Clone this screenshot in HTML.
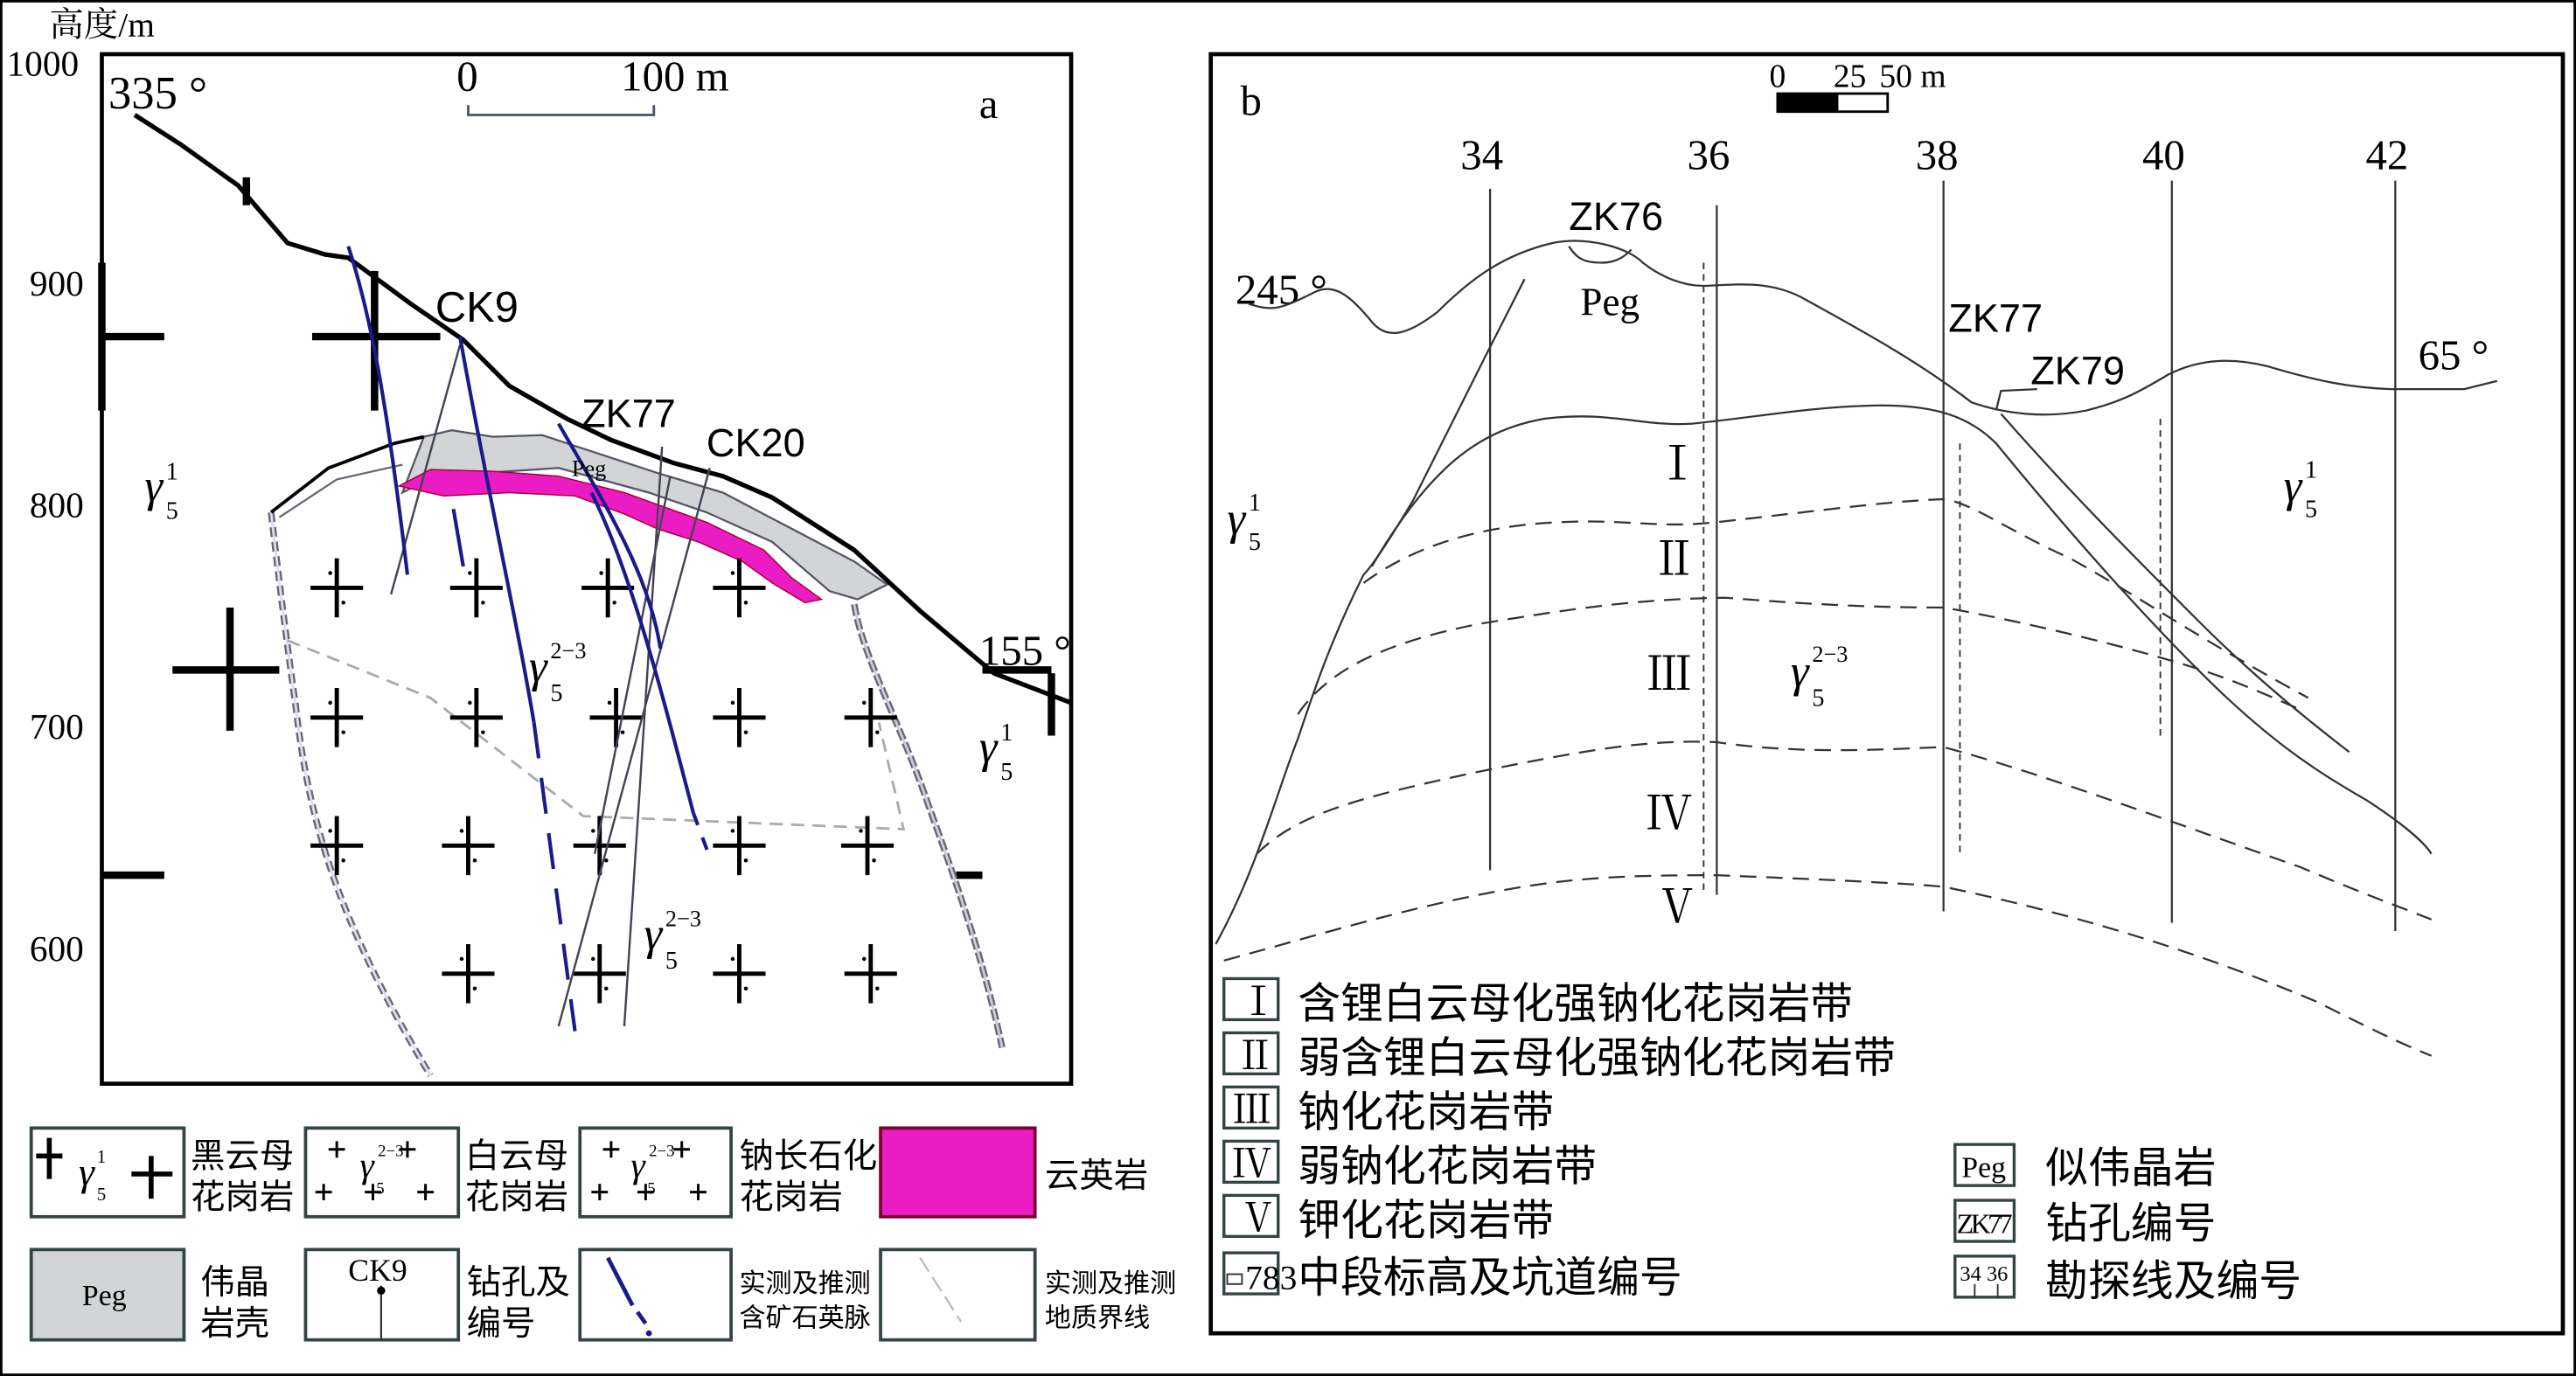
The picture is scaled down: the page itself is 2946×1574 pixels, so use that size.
<!DOCTYPE html>
<html><head><meta charset="utf-8"><style>
html,body{margin:0;padding:0;background:#fff}
svg{display:block}
.s{font-family:"Liberation Serif","Noto Serif CJK SC",serif;fill:#000}
.c{font-family:"Liberation Sans","Noto Sans CJK SC",sans-serif;fill:#000}
</style></head><body>
<svg width="2946" height="1574" viewBox="0 0 1568 838" preserveAspectRatio="none" xmlns="http://www.w3.org/2000/svg">
<defs>
<g id="sc"><path d="M-16 0H16M0 -18V18" stroke="#000" stroke-width="2.6"/><circle cx="-4" cy="-9" r="1.2"/><circle cx="4" cy="9" r="1.2"/></g>
</defs>
<rect x="0.5" y="0.5" width="1567" height="837" fill="#fff" stroke="#000" stroke-width="2"/>
<!-- Panel a -->
<rect x="62" y="33" width="590" height="627" fill="#fff" stroke="#000" stroke-width="2.5"/>
<text class="s" x="30" y="22" font-size="21">高度/m</text>
<g class="s" font-size="22">
<text x="4" y="46">1000</text><text x="18" y="180">900</text><text x="18" y="315">800</text><text x="18" y="450">700</text><text x="18" y="585">600</text>
<text x="66" y="66" font-size="28">335 °</text>
<text x="278" y="55" font-size="26">0</text><text x="378" y="55" font-size="26">100 m</text>
<text x="596" y="72" font-size="26">a</text>
<text x="596" y="405" font-size="26">155 °</text>
</g>
<path d="M285 64V70H398V64" fill="none" stroke="#456" stroke-width="1.5"/>
<path d="M62 205H100M62 160V250M190 205H268M228 165V250M105 408H170M140 370V445M62 533H100M598 408H640M640 410V448M582 533H598M150 108V125" stroke="#000" stroke-width="4.5" fill="none"/>
<path d="M165 312C170 355 175 395 180 430C188 500 205 560 262 655" fill="none" stroke="#667" stroke-width="4" stroke-dasharray="6 3"/>
<path d="M165 312C170 355 175 395 180 430C188 500 205 560 262 655" fill="none" stroke="#dde" stroke-width="1.5"/>
<path d="M520 368C525 400 548 440 565 490C585 545 600 590 610 638" fill="none" stroke="#667" stroke-width="4" stroke-dasharray="7 2"/>
<path d="M520 368C525 400 548 440 565 490C585 545 600 590 610 638" fill="none" stroke="#ccd" stroke-width="1.5"/>
<path d="M175 390L262 425L355 497L550 505L535 440" fill="none" stroke="#aaa" stroke-width="1.5" stroke-dasharray="8 5"/>
<path d="M258 266L275 262L300 266L330 265L400 288L440 300L520 342L540 356L522 365L505 360L470 330L430 312L395 300L340 285L265 290L245 300Z" fill="#d2d4d6" stroke="#556" stroke-width="1.2"/>
<path d="M243 296L262 286L300 287L340 290L380 300L430 318L465 335L482 352L500 365L490 367L470 355L452 342L425 330L400 322L380 313L350 302L310 300L270 302Z" fill="#ec1cc4" stroke="#a03" stroke-width="0.8"/>
<path d="M165 312L200 285L240 270L258 266" fill="none" stroke="#000" stroke-width="2"/>
<path d="M170 315L205 292L245 283" fill="none" stroke="#667" stroke-width="1.2"/>
<path d="M82 70L110 88L145 113L175 148L198 155L212 157L250 185L282 207L310 235L345 255L372 268L410 282L440 290L470 303L520 335L560 372L605 410L652 428" fill="none" stroke="#000" stroke-width="2.8"/>
<g>
<use href="#sc" x="205" y="358"/><use href="#sc" x="290" y="358"/><use href="#sc" x="370" y="358"/><use href="#sc" x="450" y="358"/>
<use href="#sc" x="205" y="437"/><use href="#sc" x="290" y="437"/><use href="#sc" x="375" y="437"/><use href="#sc" x="450" y="437"/><use href="#sc" x="530" y="437"/>
<use href="#sc" x="205" y="515"/><use href="#sc" x="285" y="515"/><use href="#sc" x="365" y="515"/><use href="#sc" x="450" y="515"/><use href="#sc" x="528" y="515"/>
<use href="#sc" x="285" y="593"/><use href="#sc" x="365" y="593"/><use href="#sc" x="450" y="593"/><use href="#sc" x="530" y="593"/>
</g>
<path d="M280 210L238 362M403 272L380 625M432 285L340 625M408 290L362 520" stroke="#445" stroke-width="1.3" fill="none"/>
<g fill="none" stroke="#1a1a8a" stroke-width="2.2">
<path d="M212 150C225 190 235 240 248 350"/>
<path d="M280 205C295 290 315 380 325 440"/>
<path d="M325 440L350 628" stroke-dasharray="22 12"/>
<path d="M276 310L282 345"/>
<path d="M340 258C370 310 395 350 402 395"/>
<path d="M360 300C385 350 405 430 422 495"/>
<path d="M422 495L432 522" stroke-dasharray="8 8"/>
</g>
<g class="s">
<text x="265" y="196" font-size="26" class="c">CK9</text>
<text x="354" y="260" font-size="24" class="c">ZK77</text>
<text x="430" y="278" font-size="24" class="c">CK20</text>
<text x="348" y="290" font-size="14">Peg</text>
<text x="88" y="305" font-size="28" font-style="italic">γ</text><text x="101" y="292" font-size="15">1</text><text x="101" y="316" font-size="15">5</text>
<text x="596" y="464" font-size="28" font-style="italic">γ</text><text x="609" y="451" font-size="15">1</text><text x="609" y="475" font-size="15">5</text>
<text x="322" y="415" font-size="28" font-style="italic">γ</text><text x="335" y="401" font-size="14">2−3</text><text x="335" y="427" font-size="15">5</text>
<text x="392" y="578" font-size="28" font-style="italic">γ</text><text x="405" y="564" font-size="14">2−3</text><text x="405" y="590" font-size="15">5</text>
</g>
<g stroke="#344" stroke-width="2" fill="#fff">
<rect x="19" y="687" width="93" height="54"/><rect x="186" y="687" width="93" height="54"/><rect x="353" y="687" width="92" height="54"/>
<rect x="536" y="687" width="94" height="54" fill="#ec1cc4" stroke="#703"/>
<rect x="19" y="761" width="93" height="55" fill="#d2d4d6"/><rect x="186" y="761" width="93" height="55"/><rect x="353" y="761" width="92" height="55"/><rect x="536" y="761" width="94" height="55"/>
</g>
<path d="M22 704H38M30 693V718M80 715H105M92 704V730" stroke="#000" stroke-width="3"/>
<text class="s" x="48" y="722" font-size="24" font-style="italic">γ</text><text class="s" x="59" y="708" font-size="11">1</text><text class="s" x="59" y="731" font-size="11">5</text>
<g stroke="#000" stroke-width="1.6"><path d="M200 700h10M205 695v10M243 700h10M248 695v10M192 726h10M197 721v10M222 726h10M227 721v10M254 726h10M259 721v10"/>
<path d="M367 700h10M372 695v10M410 700h10M415 695v10M360 726h10M365 721v10M388 726h10M393 721v10M420 726h10M425 721v10"/></g>
<text class="s" x="219" y="717" font-size="22" font-style="italic">γ</text><text class="s" x="230" y="704" font-size="10">2−3</text><text class="s" x="229" y="727" font-size="10">5</text>
<text class="s" x="384" y="717" font-size="22" font-style="italic">γ</text><text class="s" x="395" y="704" font-size="10">2−3</text><text class="s" x="394" y="727" font-size="10">5</text>
<g class="c" font-size="21">
<text x="116" y="711">黑云母</text><text x="116" y="736">花岗岩</text>
<text x="283" y="711">白云母</text><text x="283" y="736">花岗岩</text>
<text x="450" y="711">钠长石化</text><text x="450" y="736">花岗岩</text>
<text x="636" y="723">云英岩</text>
<text x="122" y="788">伟晶</text><text x="122" y="813">岩壳</text>
<text x="284" y="788">钻孔及</text><text x="284" y="813">编号</text>
<text x="450" y="787" font-size="16">实测及推测</text><text x="450" y="808" font-size="16">含矿石英脉</text>
<text x="636" y="787" font-size="16">实测及推测</text><text x="636" y="808" font-size="16">地质界线</text>
</g>
<text class="s" x="50" y="795" font-size="18">Peg</text>
<text class="s" x="212" y="780" font-size="19">CK9</text>
<path d="M232 783V816" stroke="#333" stroke-width="1.2"/><circle cx="232" cy="786" r="2.5"/>
<path d="M370 766L385 795M388 799L393 806" stroke="#1a1a8a" stroke-width="2.5"/><circle cx="395" cy="812" r="1.8" fill="#1a1a8a"/>
<path d="M560 766L585 805" stroke="#bbb" stroke-width="1.2" stroke-dasharray="10 4"/>
<!-- Panel b -->
<rect x="737" y="33" width="823" height="779" fill="none" stroke="#000" stroke-width="2.5"/>
<text class="s" x="755" y="70" font-size="26">b</text>
<rect x="1082" y="57" width="67" height="11" fill="#fff" stroke="#000" stroke-width="1.5"/><rect x="1082" y="57" width="37" height="11" fill="#000"/>
<g class="s" font-size="20"><text x="1077" y="53">0</text><text x="1116" y="53">25</text><text x="1144" y="53">50 m</text></g>
<g class="s" font-size="26"><text x="889" y="103">34</text><text x="1027" y="103">36</text><text x="1166" y="103">38</text><text x="1304" y="103">40</text><text x="1440" y="103">42</text>
<text x="752" y="185">245 °</text><text x="1472" y="225">65 °</text><text x="962" y="192" font-size="24">Peg</text></g>
<g class="c" font-size="24"><text x="955" y="140">ZK76</text><text x="1186" y="202">ZK77</text><text x="1236" y="234">ZK79</text></g>
<g stroke="#333" stroke-width="1.2" fill="none">
<path d="M907 115V530M1045 125V545M1183 110V555M1322 110V562M1458 110V567"/>
<path d="M760 185C775 190 780 188 800 178C812 172 822 180 835 196C845 208 858 203 875 190C895 170 915 155 945 148C965 144 990 150 1000 160C1010 168 1025 175 1040 174C1060 173 1080 171 1100 183C1140 205 1170 222 1200 245C1220 252 1245 255 1270 250C1290 245 1300 240 1320 228C1340 218 1360 218 1380 223C1410 232 1430 236 1455 237H1500L1520 232"/>
<path d="M955 150C960 158 965 160 975 160C985 160 990 155 993 152"/>
<path d="M928 170C905 215 880 265 860 305C845 330 835 345 830 350"/>
<path d="M830 350C810 390 800 420 790 450C778 480 765 530 740 575"/>
<path d="M835 345C870 285 900 262 940 255C980 250 1000 260 1030 258C1070 254 1100 248 1140 247C1180 246 1200 255 1215 270C1260 325 1300 370 1340 410C1380 450 1410 470 1440 487C1460 500 1475 512 1480 520"/>
<path d="M1215 250L1218 238L1240 237M1218 252C1260 300 1300 340 1340 380C1370 410 1400 435 1430 458"/>
</g>
<g stroke="#333" stroke-width="1.2" fill="none" stroke-dasharray="10 6">
<path d="M830 355C860 333 900 320 950 318C990 316 1010 322 1045 318C1100 312 1150 305 1183 304C1200 306 1220 322 1260 340C1300 362 1340 390 1405 425"/>
<path d="M790 435C810 405 850 390 900 380C950 372 990 365 1050 364C1100 368 1140 370 1183 370C1230 378 1300 395 1340 408C1370 418 1390 428 1400 432"/>
<path d="M765 520C790 495 830 485 900 470C960 458 1000 450 1045 452C1100 460 1150 456 1183 455C1240 470 1320 500 1400 528C1440 545 1460 552 1480 560"/>
<path d="M745 585C800 570 850 555 900 545C950 535 980 533 1045 533C1120 536 1160 538 1183 540C1240 552 1320 572 1410 610C1440 625 1460 635 1480 643"/>
</g>
<g stroke="#333" stroke-width="1" stroke-dasharray="4 3"><path d="M1037 160V545M1193 270V520M1315 255V450"/></g>
<g class="s" font-size="28"><text x="1007" y="292">Ⅰ</text><text x="1005" y="350">Ⅱ</text><text x="1002" y="420">Ⅲ</text><text x="1002" y="505">Ⅳ</text><text x="1007" y="562">Ⅴ</text>
<text x="747" y="325" font-style="italic">γ</text><text x="760" y="311" font-size="15">1</text><text x="760" y="335" font-size="15">5</text>
<text x="1390" y="305" font-style="italic">γ</text><text x="1403" y="291" font-size="15">1</text><text x="1403" y="315" font-size="15">5</text>
<text x="1090" y="418" font-style="italic">γ</text><text x="1103" y="403" font-size="14">2−3</text><text x="1103" y="430" font-size="15">5</text></g>
<g fill="#fff" stroke="#344" stroke-width="1.8">
<rect x="745" y="596" width="33" height="25"/><rect x="745" y="629" width="33" height="25"/><rect x="745" y="662" width="33" height="25"/><rect x="745" y="695" width="33" height="25"/><rect x="745" y="728" width="33" height="25"/><rect x="745" y="763" width="33" height="25"/>
<rect x="1190" y="697" width="36" height="25"/><rect x="1190" y="731" width="36" height="25"/><rect x="1190" y="765" width="36" height="25"/>
</g>
<g class="s" font-size="24"><text x="754" y="618">Ⅰ</text><text x="752" y="651">Ⅱ</text><text x="750" y="684">Ⅲ</text><text x="750" y="717">Ⅳ</text><text x="754" y="750">Ⅴ</text>
<text x="758" y="785" font-size="21">783</text><text x="1194" y="717" font-size="18">Peg</text><text x="1191" y="751" font-size="17" textLength="34">ZK77</text>
<text x="1193" y="780" font-size="13">34 36</text></g>
<rect x="747" y="776" width="9" height="6" fill="none" stroke="#333" stroke-width="1"/>
<path d="M1202 782V790M1216 782V790" stroke="#333" stroke-width="1"/>
<g class="c" font-size="26"><text x="790" y="620">含锂白云母化强钠化花岗岩带</text><text x="790" y="653">弱含锂白云母化强钠化花岗岩带</text><text x="790" y="686">钠化花岗岩带</text><text x="790" y="719">弱钠化花岗岩带</text><text x="790" y="752">钾化花岗岩带</text><text x="790" y="787">中段标高及坑道编号</text>
<text x="1245" y="720">似伟晶岩</text><text x="1245" y="754">钻孔编号</text><text x="1245" y="789">勘探线及编号</text></g>
</svg>
</body></html>
